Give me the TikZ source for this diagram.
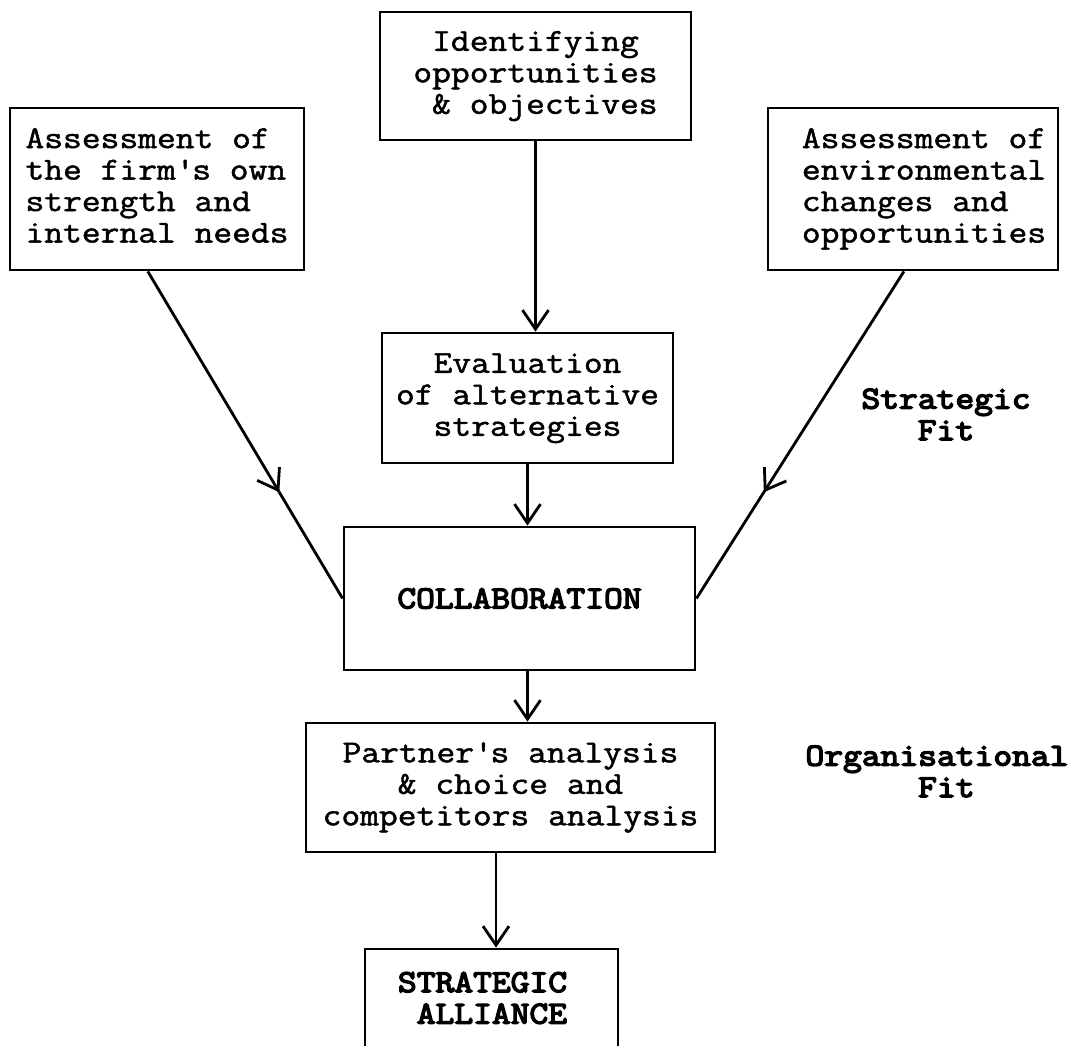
\documentclass[tikz,border=0pt]{standalone}
\usepackage{fontspec}
% typewriter face, widened to the pitch of the typed text
\setmonofont{Latin Modern Mono}[FakeStretch=1.14, FakeBold=1.5,
  BoldFont={Latin Modern Mono}, BoldFeatures={FakeBold=4.5}]
\usetikzlibrary{arrows.meta,decorations.markings,calc}

\begin{document}
\begin{tikzpicture}[x=1pt,y=-1pt,
  every node/.style={font=\ttfamily\fontsize{32}{31.5}\selectfont},
  box/.style={draw, line width=2.8pt, rectangle, inner sep=0pt},
  sidelabel/.style={font=\ttfamily\bfseries\fontsize{32}{31.5}\selectfont, inner sep=0pt},
  barb/.tip={Straight Barb[length=19pt,width=26pt]},
  flow/.style={line width=2.8pt, -barb},
  midflow/.style={line width=2.8pt, postaction={decorate},
    decoration={markings, mark=at position 0.675 with {\arrow{barb}}}}
]
\useasboundingbox (0,0) rectangle (1083,1045);
\clip (0,0) rectangle (1083,1045);

% boxes
\node[box, minimum width=311pt, minimum height=128pt] (ident) at (535.5,76)
  {\begin{tabular}{@{}l@{}}\hphantom{I}Identifying\\opportunities\\\hphantom{I}\& objectives\end{tabular}};
\node[box, minimum width=294pt, minimum height=162pt] (own) at (157,189)
  {\begin{tabular}{@{}l@{}}Assessment of\\the firm\textquotesingle s own\\strength and\\internal needs\end{tabular}};
\node[box, minimum width=290pt, minimum height=162pt] (env) at (913,189)
  {\begin{tabular}{@{\hspace{22pt}}l@{}}Assessment of\\environmental\\changes and\\opportunities\end{tabular}};
\node[box, minimum width=291pt, minimum height=130pt] (eval) at (527.5,398)
  {\begin{tabular}{@{}c@{}}Evaluation\\of alternative\\strategies\end{tabular}};
\node[box, minimum width=351pt, minimum height=143pt] (collab) at (519.5,598.5)
  {\bfseries COLLABORATION};
\node[box, minimum width=409pt, minimum height=129pt] (partner) at (510.5,787.5)
  {\begin{tabular}{@{}c@{}}Partner\textquotesingle s analysis\\\& choice and\\competitors analysis\end{tabular}};
\node[box, minimum width=253pt, minimum height=105pt] (alliance) at (491.5,1001.5)
  {\bfseries\begin{tabular}{@{}l@{\hspace{18pt}}}STRATEGIC\\\hphantom{S}ALLIANCE\end{tabular}};

% side labels
\node[sidelabel] (sfit) at (946,418)
  {\begin{tabular}{@{}c@{}}Strategic\\Fit\end{tabular}};
\node[sidelabel] (ofit) at (937,775)
  {\begin{tabular}{@{}l@{}}Organisational\\\hphantom{Organi}Fit\end{tabular}};

% connectors
\draw[flow] (ident.south) -- (ident.south |- eval.north);
\draw[flow] (eval.south) -- (eval.south |- collab.north);
\draw[flow] (eval.south |- collab.south) -- (eval.south |- partner.north);
\draw[flow] ([xshift=4.5pt]alliance.north |- partner.south) -- ([xshift=4.5pt]alliance.north);
\draw[midflow] ($(own.south west)!0.469!(own.south east)$) -- (collab.west);
\draw[midflow] ($(env.south west)!0.469!(env.south east)$) -- (collab.east);
\end{tikzpicture}
\end{document}
